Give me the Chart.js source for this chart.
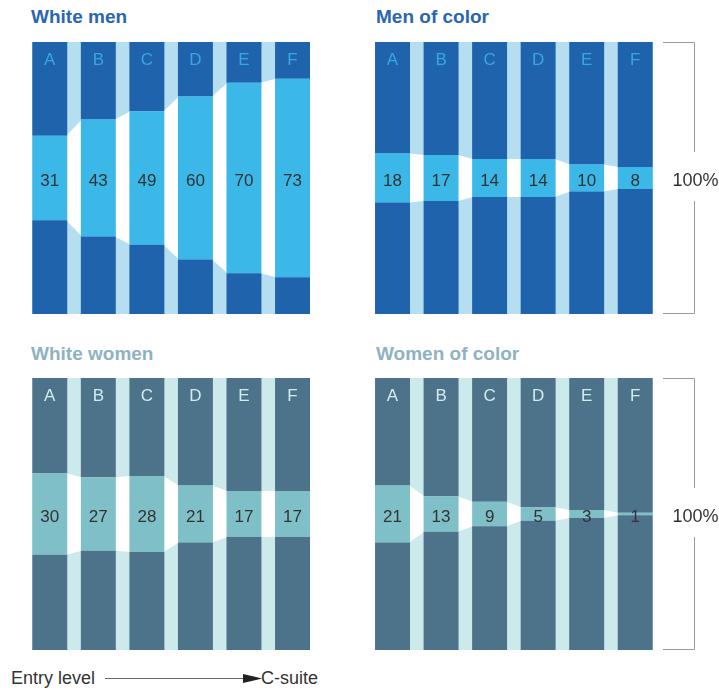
<!DOCTYPE html>
<html lang="en">
<head>
    <meta charset="UTF-8">
    <title>Representation by level</title>
    <script src="https://cdn.jsdelivr.net/npm/chart.js@4.4.0/dist/chart.umd.min.js"></script>
    <style>
        body {
            margin: 0;
            background: #ffffff;
            font-family: "Liberation Sans", Arial, sans-serif;
        }
        .page {
            position: relative;
            width: 719px;
            height: 692px;
            overflow: hidden;
        }
        .page canvas {
            position: absolute;
        }
        .title {
            position: absolute;
            font-size: 19px;
            font-weight: bold;
            line-height: 19px;
            white-space: nowrap;
        }
        .blue { color: #2a65ad; }
        .grey { color: #8fb2c2; }
        .foot {
            position: absolute;
            font-size: 18px;
            line-height: 18px;
            color: #333333;
            white-space: nowrap;
        }
    </style>
</head>
<body>
<div class="page">
    <div class="title blue" style="left:31px; top:7px;">White men</div>
    <div class="title blue" style="left:376px; top:7px;">Men of color</div>
    <div class="title grey" style="left:31px; top:344px;">White women</div>
    <div class="title grey" style="left:376px; top:344px;">Women of color</div>

    <canvas id="whiteMen" width="340" height="300" style="left:0; top:30px;"></canvas>
    <canvas id="menOfColor" width="379" height="300" style="left:340px; top:30px;"></canvas>
    <canvas id="whiteWomen" width="340" height="300" style="left:0; top:366px;"></canvas>
    <canvas id="womenOfColor" width="379" height="300" style="left:340px; top:366px;"></canvas>

    <div class="foot" style="left:11px; top:669px;">Entry level</div>
    <svg style="position:absolute; left:100px; top:670px;" width="165" height="16">
        <line x1="5" y1="8.5" x2="146" y2="8.5" stroke="#666666" stroke-width="1"/>
        <polygon points="143,4 162,8.5 143,13" fill="#222222"/>
    </svg>
    <div class="foot" style="left:261px; top:669px;">C-suite</div>
</div>

<script>
    // Levels, entry level (A) to C-suite (F)
    const categories = ['A', 'B', 'C', 'D', 'E', 'F'];

    // Share at each level, %
    const whiteMen = [31, 43, 49, 60, 70, 73];
    const menOfColor = [18, 17, 14, 14, 10, 8];
    const whiteWomen = [30, 27, 28, 21, 17, 17];
    const womenOfColor = [21, 13, 9, 5, 3, 1];

    const bracketLabel = '100%';

    // the highlighted share sits in the middle of a 100% column
    const padOf = v => (100 - v) / 2;

    const flowPlugin = {
        id: 'flow',
        beforeDatasetsDraw(chart, args, opts) {
            const ctx = chart.ctx;
            const mid = chart.getDatasetMeta(1).data;
            const { top, bottom } = chart.chartArea;
            const left = mid[0].x - mid[0].width / 2;
            const right = mid[mid.length - 1].x + mid[mid.length - 1].width / 2;

            ctx.save();
            ctx.fillStyle = opts.gap;
            ctx.fillRect(left, top, right - left, bottom - top);

            // white bands joining the middle segments
            ctx.fillStyle = '#ffffff';
            for (let i = 0; i < mid.length - 1; i++) {
                const a = mid[i], b = mid[i + 1];
                ctx.beginPath();
                ctx.moveTo(a.x + a.width / 2 - 1, a.y);
                ctx.lineTo(b.x - b.width / 2 + 1, b.y);
                ctx.lineTo(b.x - b.width / 2 + 1, b.base);
                ctx.lineTo(a.x + a.width / 2 - 1, a.base);
                ctx.closePath();
                ctx.fill();
            }
            ctx.restore();
        },
        afterDatasetsDraw(chart, args, opts) {
            const ctx = chart.ctx;
            const mid = chart.getDatasetMeta(1).data;
            const values = chart.data.datasets[1].data;
            const { top, bottom, right } = chart.chartArea;

            ctx.save();
            ctx.textAlign = 'center';
            ctx.textBaseline = 'middle';

            // level letters
            ctx.font = '17px "Liberation Sans", Arial, sans-serif';
            ctx.fillStyle = opts.letter;
            chart.data.labels.forEach((lab, i) => {
                ctx.fillText(lab, mid[i].x, top + 18);
            });

            // values
            ctx.fillStyle = '#333333';
            mid.forEach((el, i) => {
                ctx.fillText(values[i], el.x, (el.y + el.base) / 2 + 3);
            });

            if (opts.bracket) {
                const cy = (top + bottom) / 2;
                const x0 = right + 3.5;
                const x1 = Math.round(right + 34) + 0.5;
                ctx.strokeStyle = '#999999';
                ctx.lineWidth = 1;
                ctx.beginPath();
                ctx.moveTo(x0, top + 0.5);
                ctx.lineTo(x1, top + 0.5);
                ctx.lineTo(x1, cy - 26);
                ctx.moveTo(x1, cy + 23);
                ctx.lineTo(x1, bottom - 0.5);
                ctx.lineTo(x0, bottom - 0.5);
                ctx.stroke();

                ctx.font = '18px "Liberation Sans", Arial, sans-serif';
                ctx.fillStyle = '#333333';
                ctx.fillText(bracketLabel, right + 36, cy + 3);
            }
            ctx.restore();
        }
    };

    function makePanel(id, values, colors, right) {
        const ctx = document.getElementById(id).getContext('2d');
        return new Chart(ctx, {
            type: 'bar',
            data: {
                labels: categories,
                datasets: [
                    { label: 'below', data: values.map(padOf), backgroundColor: colors.dark },
                    { label: 'share', data: values, backgroundColor: colors.light },
                    { label: 'above', data: values.map(padOf), backgroundColor: colors.dark }
                ]
            },
            options: {
                responsive: false,
                animation: false,
                devicePixelRatio: 1,
                datasets: {
                    bar: {
                        barPercentage: 0.72,
                        categoryPercentage: 1,
                        borderWidth: 0
                    }
                },
                layout: {
                    padding: right
                        ? { left: 28.25, right: 59.5, top: 12, bottom: 16 }
                        : { left: 25.5, right: 23.2, top: 12, bottom: 16 }
                },
                scales: {
                    x: { display: false, stacked: true },
                    y: { display: false, stacked: true, min: 0, max: 100 }
                },
                plugins: {
                    legend: { display: false },
                    tooltip: { enabled: false },
                    flow: {
                        gap: colors.gap,
                        letter: colors.letter,
                        bracket: right
                    }
                }
            },
            plugins: [flowPlugin]
        });
    }

    const menColors = { dark: '#1f63ac', light: '#3cb8e8', gap: '#b5dff1', letter: '#3aa6de' };
    const womenColors = { dark: '#4c7389', light: '#7fbfc7', gap: '#cce9ec', letter: '#d3ebef' };

    makePanel('whiteMen', whiteMen, menColors, false);
    makePanel('menOfColor', menOfColor, menColors, true);
    makePanel('whiteWomen', whiteWomen, womenColors, false);
    makePanel('womenOfColor', womenOfColor, womenColors, true);
</script>
</body>
</html>
